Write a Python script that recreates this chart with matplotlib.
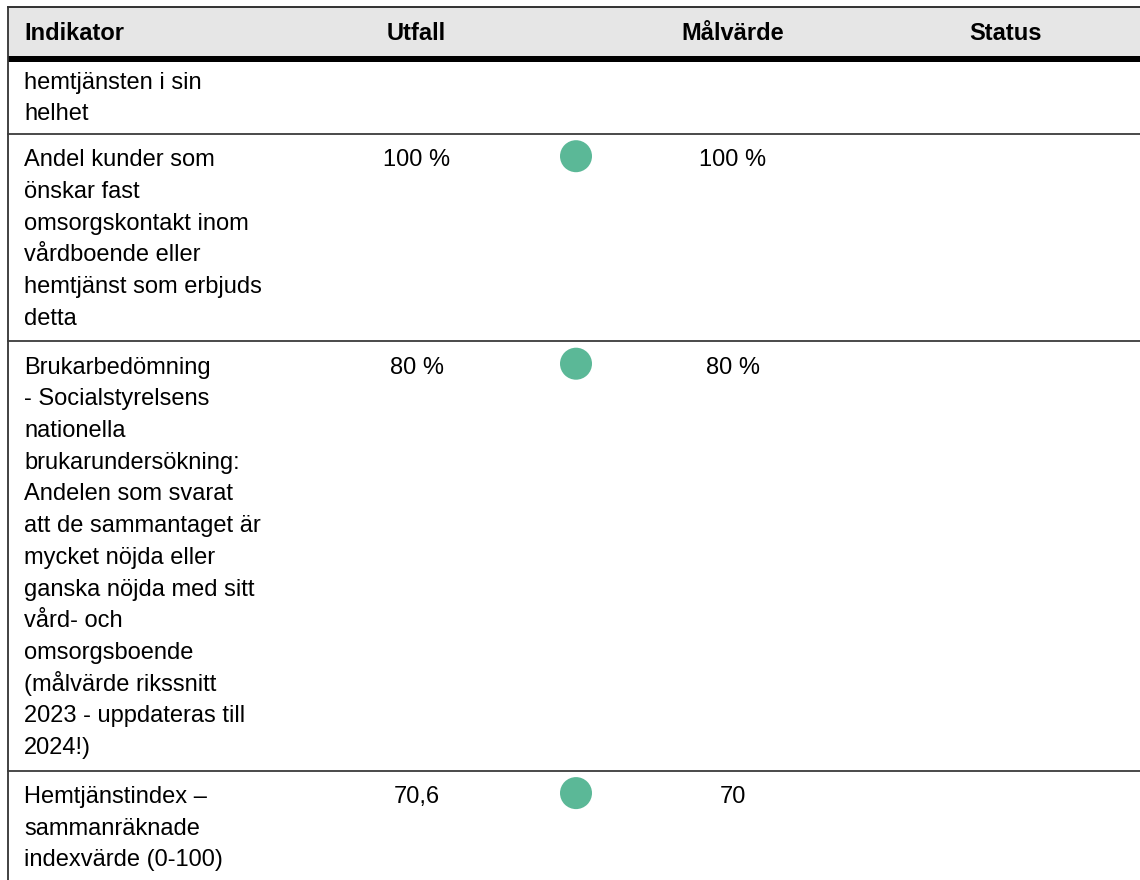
import matplotlib
matplotlib.use("Agg")
import matplotlib.pyplot as plt
from matplotlib.patches import Rectangle, Circle

# ---- data ----
headers = ["Indikator", "Utfall", "Målvärde", "Status"]
indicators = [
    ["hemtjänsten i sin", "helhet"],
    ["Andel kunder som", "önskar fast", "omsorgskontakt inom",
     "vårdboende eller", "hemtjänst som erbjuds", "detta"],
    ["Brukarbedömning", "- Socialstyrelsens", "nationella",
     "brukarundersökning:", "Andelen som svarat", "att de sammantaget är",
     "mycket nöjda eller", "ganska nöjda med sitt", "vård- och",
     "omsorgsboende", "(målvärde rikssnitt", "2023 - uppdateras till",
     "2024!)"],
    ["Hemtjänstindex –", "sammanräknade", "indexvärde (0-100)"],
]
utfall = ["", "100 %", "80 %", "70,6"]
malvarde = ["", "100 %", "80 %", "70"]
status = [None, "#5bb897", "#5bb897", "#5bb897"]

# ---- layout ----
W, H = 1140, 880
FONT = "Liberation Sans"
FS = 17
plt.rcParams['font.family'] = [FONT, 'DejaVu Sans']

fig = plt.figure(figsize=(W / 100, H / 100), dpi=100)
ax = fig.add_axes([0, 0, 1, 1])
ax.set_xlim(0, W)
ax.set_ylim(H, 0)
ax.axis("off")

left = 7.5
head_top = 7
head_bot = 56
thick_bot = 62
col_x = {"text": 24, "utfall": 417, "circle": 576, "mal": 733, "status": 1006}

# header
ax.add_patch(Rectangle((left, head_top), W - left, head_bot - head_top,
                       facecolor="#e6e6e6", edgecolor="none", zorder=1))
ax.plot([left, W], [head_top, head_top], color="#222222", lw=1.3, zorder=3)
ax.add_patch(Rectangle((left, head_bot), W - left, thick_bot - head_bot,
                       facecolor="black", edgecolor="none", zorder=3))
hb = 40
ax.text(col_x["text"], hb, headers[0], fontsize=FS, fontweight="bold",
        ha="left", va="baseline")
ax.text(416, hb, headers[1], fontsize=FS, fontweight="bold", ha="center", va="baseline")
ax.text(col_x["mal"], hb, headers[2], fontsize=FS, fontweight="bold", ha="center", va="baseline")
ax.text(col_x["status"], hb, headers[3], fontsize=FS, fontweight="bold", ha="center", va="baseline")

# left border
ax.plot([left, left], [head_top, H], color="#333333", lw=1.3, zorder=3)

line_h = 31.7
y = thick_bot
for i, lines in enumerate(indicators):
    pad_top = 18 if i == 0 else 24
    pad_bot = 22 if i == 0 else 25
    first = y + pad_top
    for k, s in enumerate(lines):
        ax.text(col_x["text"], first + k * line_h + 8.5, s, fontsize=FS,
                ha="left", va="baseline")
    if utfall[i]:
        ax.text(col_x["utfall"], first + 8.5, utfall[i], fontsize=FS,
                ha="center", va="baseline")
    if malvarde[i]:
        ax.text(col_x["mal"], first + 8.5, malvarde[i], fontsize=FS,
                ha="center", va="baseline")
    if status[i]:
        ax.add_patch(Circle((col_x["circle"], first - 1.5), 16,
                            facecolor=status[i], edgecolor="none", zorder=2))
    y = first + (len(lines) - 1) * line_h + pad_bot
    if i < len(indicators) - 1:
        ax.plot([left, W], [y, y], color="#3a3a3a", lw=1.3, zorder=3)

fig.savefig("out.png", dpi=100)
